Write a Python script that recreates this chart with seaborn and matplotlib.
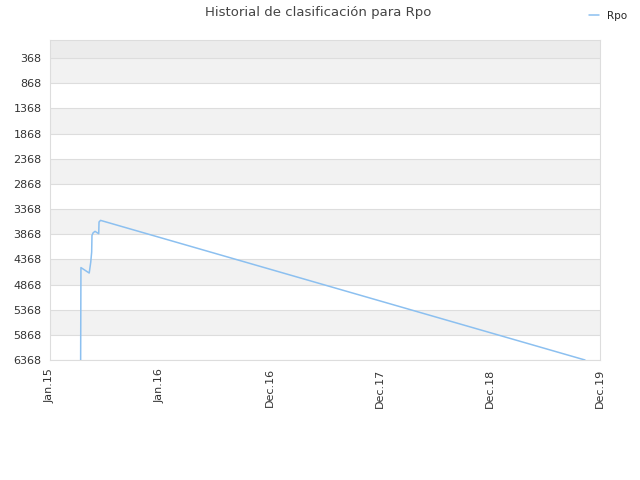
import pandas as pd
import seaborn as sns
import matplotlib.pyplot as plt
import matplotlib.dates as mdates
import numpy as np

# ranking history
dates = ['2015-04-11', '2015-04-12', '2015-05-09', '2015-05-14', '2015-05-17',
         '2015-05-18', '2015-05-22', '2015-05-28', '2015-06-09', '2015-06-10',
         '2015-06-15', '2019-10-13']
ranks = [6368, 4532, 4640, 4422, 4223, 3892, 3839, 3812, 3858, 3626, 3594, 6368]

yticks = [368, 868, 1368, 1868, 2368, 2868, 3368, 3868, 4368, 4868, 5368, 5868, 6368]
xtick_labels = ['Jan.15', 'Jan.16', 'Dec.16', 'Dec.17', 'Dec.18', 'Dec.19']

df = pd.DataFrame({'fecha': pd.to_datetime(dates), 'rank': ranks, 'jugador': 'Rpo'})

sns.set_style('white')
plt.rcParams['font.family'] = ['DejaVu Sans']

fig = plt.figure(figsize=(6.4, 4.8), dpi=100)
ax = fig.add_axes([50/640, 1 - 360/480, 550/640, 320/480])

x0 = mdates.date2num(pd.Timestamp('2015-01-01'))
x1 = mdates.date2num(pd.Timestamp('2019-12-01'))

# alternating bands
ax.axhspan(10, 368, color='#ececec', zorder=0, lw=0)
for i in range(len(yticks) - 1):
    if i % 2 == 0:
        ax.axhspan(yticks[i], yticks[i + 1], color='#f2f2f2', zorder=0, lw=0)
for t in yticks:
    ax.axhline(t, color='#dddddd', lw=0.8, zorder=1)

sns.lineplot(data=df, x='fecha', y='rank', hue='jugador', palette=['#8cc0f0'],
             linewidth=1.1, ax=ax, zorder=3, estimator=None, sort=False)

ax.set_xlim(x0, x1)
ax.set_ylim(6368, 10)
ax.set_yticks(yticks)
ax.set_yticklabels([str(t) for t in yticks])
ax.set_xticks(np.linspace(x0, x1, len(xtick_labels)))
ax.set_xticklabels(xtick_labels, rotation=90)
ax.tick_params(axis='both', labelsize=8, labelcolor='#333333', length=0, pad=6)
ax.set_xlabel('')
ax.set_ylabel('')
for s in ax.spines.values():
    s.set_color('#dddddd')
    s.set_linewidth(0.8)

ax.legend_.remove()
fig.text(0.497, 0.973, 'Historial de clasificación para Rpo', ha='center', va='center',
         fontsize=9.5, color='#444444')
fig.legend(*ax.get_legend_handles_labels(), loc='center right', bbox_to_anchor=(0.995, 0.967),
           frameon=False, fontsize=7.5, handlelength=1, handletextpad=0.8)

fig.savefig('out.png')
